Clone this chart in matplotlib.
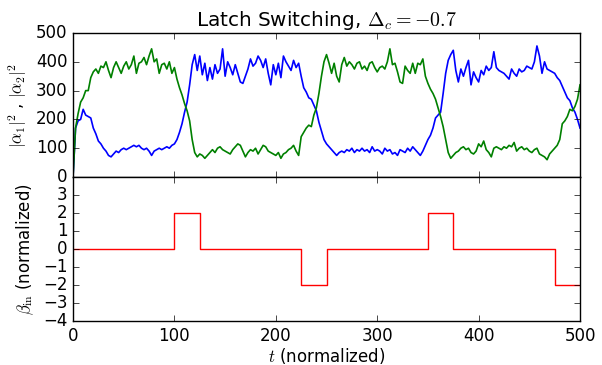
import numpy as np
import matplotlib
matplotlib.use("Agg")
import matplotlib.pyplot as plt

plt.style.use("classic")

# sample times of the two cavity traces (every 2.5 units)
t = np.arange(0, 500.1, 2.5)

# |alpha_1|^2
alpha1 = [0, 170, 195, 200, 235, 215, 210, 205, 170, 150,
          125, 115, 100, 90, 75, 70, 80, 90, 85, 95,
          100, 95, 100, 105, 110, 105, 110, 100, 95, 100,
          90, 75, 90, 95, 100, 95, 100, 105, 100, 110,
          115, 130, 155, 185, 225, 260, 320, 390, 425, 370,
          420, 355, 395, 335, 380, 340, 390, 360, 375, 445,
          350, 400, 380, 355, 390, 360, 330, 325, 350, 375,
          410, 385, 395, 420, 405, 380, 410, 360, 320, 390,
          355, 395, 345, 420, 400, 385, 370, 405, 380, 395,
          350, 310, 295, 275, 270, 250, 230, 190, 160, 130,
          115, 105, 95, 85, 75, 85, 90, 85, 95, 90,
          100, 85, 95, 90, 100, 90, 95, 85, 105, 90,
          95, 90, 80, 100, 90, 95, 80, 85, 75, 95,
          90, 85, 100, 90, 105, 95, 85, 75, 90, 110,
          130, 145, 170, 205, 215, 225, 290, 360, 405, 425,
          440, 370, 330, 375, 350, 380, 405, 320, 365, 345,
          330, 370, 355, 385, 370, 380, 435, 380, 370, 365,
          360, 350, 340, 375, 360, 350, 375, 365, 370, 385,
          380, 375, 400, 455, 420, 360, 400, 375, 370, 365,
          360, 345, 335, 315, 295, 275, 265, 240, 225, 200,
          170]

# |alpha_2|^2
alpha2 = [0, 170, 220, 260, 275, 300, 300, 345, 365, 375,
          360, 385, 380, 400, 370, 345, 380, 400, 380, 360,
          385, 400, 375, 390, 420, 360, 395, 400, 415, 390,
          420, 445, 400, 410, 360, 390, 395, 375, 400, 360,
          380, 340, 310, 285, 255, 230, 195, 130, 85, 70,
          80, 75, 65, 75, 85, 95, 85, 100, 105, 95,
          90, 85, 80, 95, 105, 115, 110, 90, 70, 85,
          95, 90, 100, 80, 95, 110, 105, 90, 85, 80,
          75, 85, 65, 80, 85, 95, 100, 110, 90, 75,
          140, 155, 170, 180, 175, 215, 240, 290, 350, 400,
          425, 395, 360, 395, 350, 330, 390, 415, 385, 400,
          390, 375, 395, 400, 375, 385, 370, 395, 400, 380,
          365, 380, 385, 375, 400, 445, 390, 395, 365, 330,
          325, 385, 370, 360, 395, 360, 395, 390, 410, 350,
          325, 305, 290, 270, 240, 210, 175, 130, 85, 65,
          75, 85, 90, 100, 105, 95, 100, 85, 80, 90,
          115, 105, 125, 95, 85, 70, 100, 105, 100, 95,
          105, 100, 110, 105, 120, 90, 100, 105, 95, 100,
          90, 85, 95, 100, 80, 75, 70, 60, 80, 90,
          100, 110, 130, 185, 195, 210, 235, 230, 245, 270,
          320]

# input drive pulses (piecewise constant)
pulse_edges = [0, 100, 125, 225, 250, 350, 375, 475, 500]
pulse_level = [0, 2, 0, -2, 0, 2, 0, -2]

assert len(alpha1) == len(t) and len(alpha2) == len(t)

fig = plt.figure(figsize=(6.02, 3.65), dpi=100, facecolor="white")
ax1 = fig.add_axes([0.1213, 0.515, 0.8422, 0.3946])
ax2 = fig.add_axes([0.1213, 0.1205, 0.8422, 0.3945], sharex=ax1)

ax1.plot(t, alpha1, color="b", lw=1.2)
ax1.plot(t, alpha2, color="g", lw=1.2)
ax1.set_ylim(0, 500)
ax1.set_yticks(range(0, 501, 100))
ax1.set_ylabel(r"$|\alpha_1|^2$ , $|\alpha_2|^2$")
ax1.set_title(r"Latch Switching, $\Delta_c = -0.7$")
plt.setp(ax1.get_xticklabels(), visible=False)

ax2.plot(pulse_edges, pulse_level + [pulse_level[-1]], color="r",
         lw=1, drawstyle="steps-post")
ax2.set_xlim(0, 500)
ax2.set_ylim(-4, 4)
ax2.set_yticks(range(-4, 4))
ax2.set_xticks(range(0, 501, 100))
ax2.set_ylabel(r"$\beta_{\rm in}$ (normalized)")
ax2.set_xlabel(r"$t$ (normalized)", labelpad=1)

fig.savefig("out.png", dpi=100, facecolor="white")
